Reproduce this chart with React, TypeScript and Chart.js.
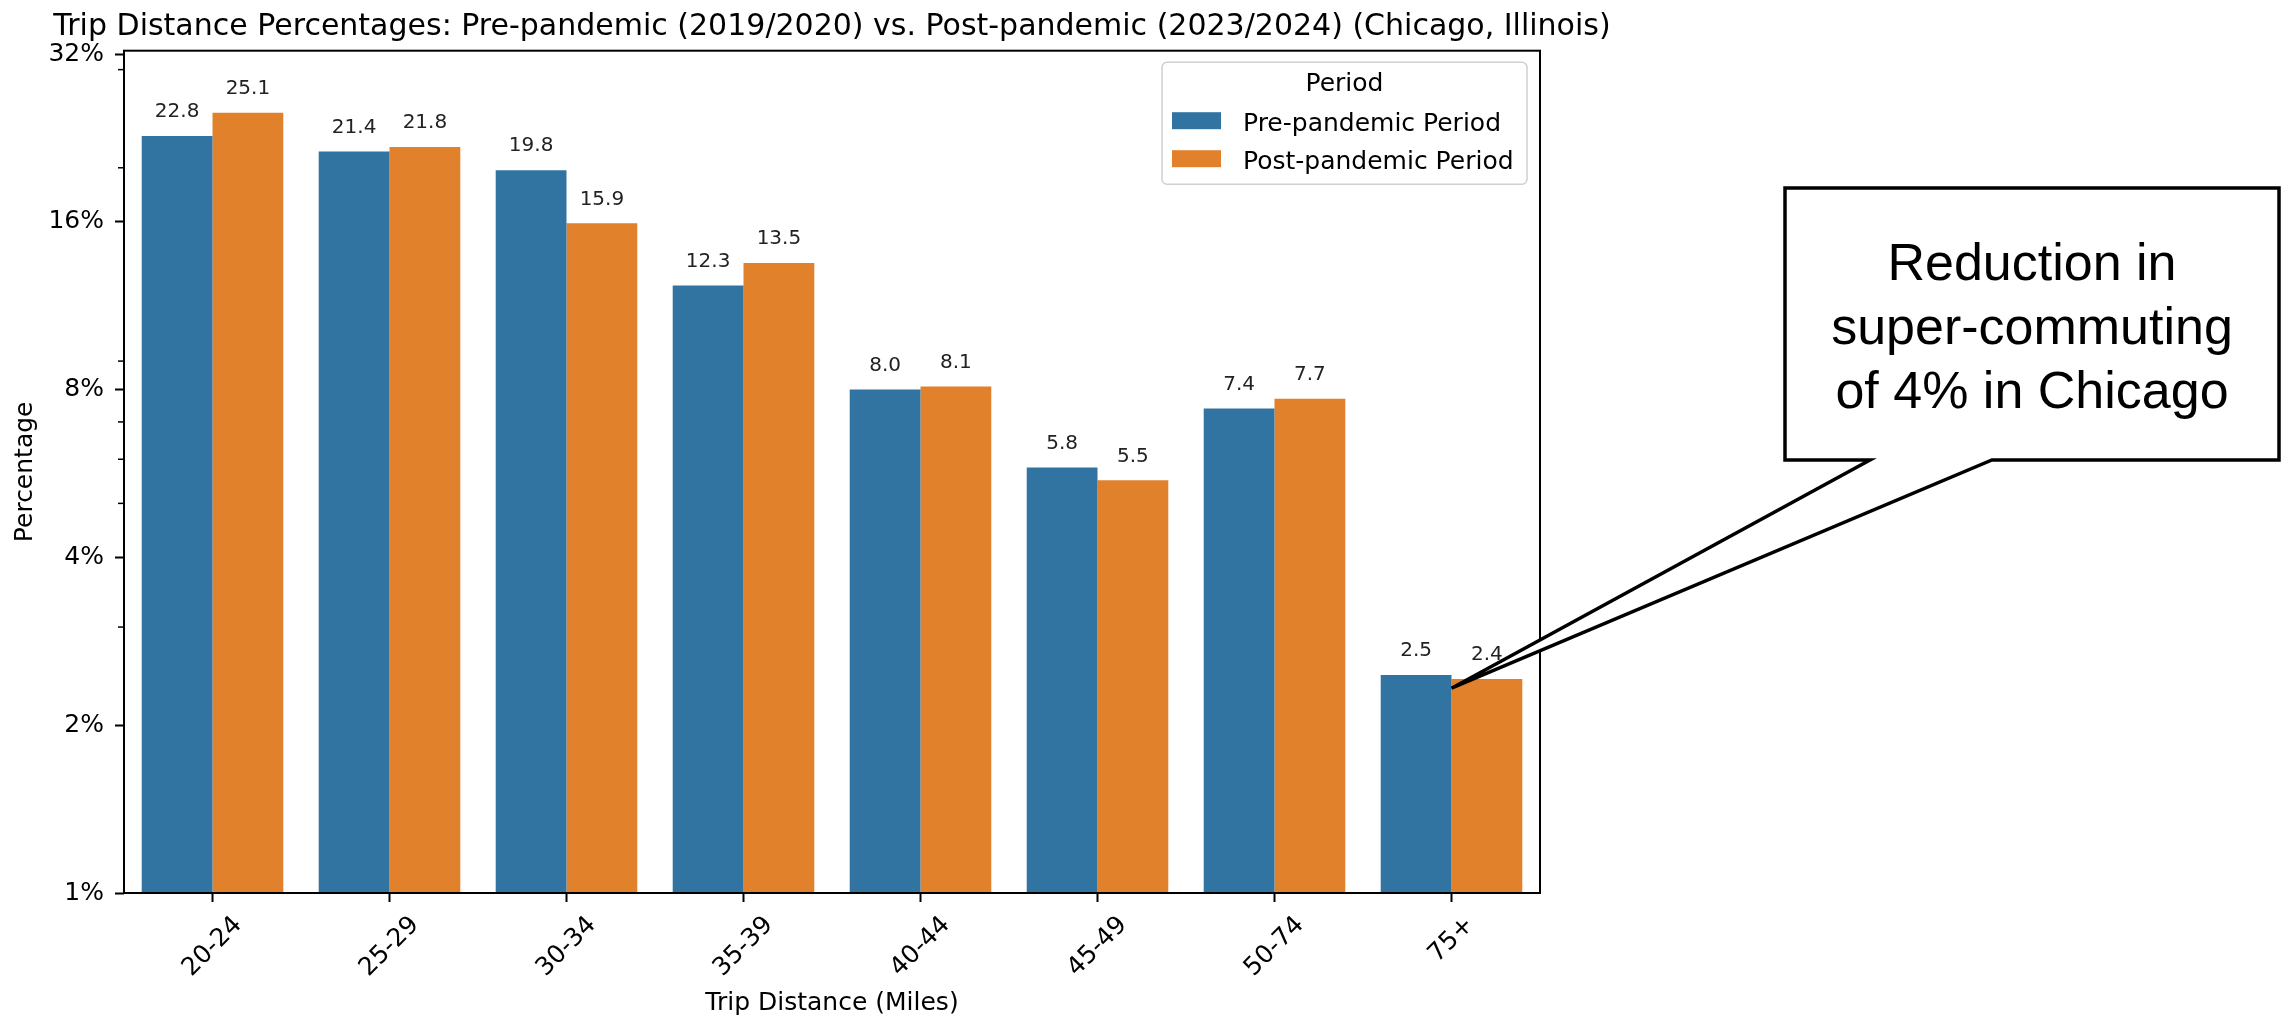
import React, { useEffect, useRef } from 'react';
import { Chart, registerables } from 'chart.js';

Chart.register(...registerables);

// ---- Data ----
const categories = ['20-24', '25-29', '30-34', '35-39', '40-44', '45-49', '50-74', '75+'];
const prePandemic = [22.8, 21.4, 19.8, 12.3, 8.0, 5.8, 7.4, 2.46];
const postPandemic = [25.1, 21.8, 15.9, 13.5, 8.1, 5.5, 7.7, 2.42];
const seriesLabels = ['Pre-pandemic Period', 'Post-pandemic Period'];
const seriesColors = ['#3274a1', '#e1812c'];
const yMajorTicks = [1, 2, 4, 8, 16, 32];
const yMinorTicks = [3, 5, 6, 7, 9, 20, 30];
const titleText =
  'Trip Distance Percentages: Pre-pandemic (2019/2020) vs. Post-pandemic (2023/2024) (Chicago, Illinois)';
const xAxisTitle = 'Trip Distance (Miles)';
const yAxisTitle = 'Percentage';
const legendTitle = 'Period';
const calloutLines = ['Reduction in', 'super-commuting', 'of 4% in Chicago'];
const calloutTargetIndex = 7;
const calloutTargetValue = 2.33;

const FONT = "'DejaVu Sans', sans-serif";
const CALLOUT_FONT = "'Liberation Sans', Arial, sans-serif";

const customPlugin = {
  id: 'customDecor',
  afterDraw(chart: any) {
    const { ctx, chartArea: ca, scales } = chart;
    const xs = scales.x;
    const ys = scales.y;
    ctx.save();

    // minor y ticks
    ctx.strokeStyle = '#000';
    ctx.lineWidth = 1.5;
    yMinorTicks.forEach((v) => {
      const py = ys.getPixelForValue(v);
      ctx.beginPath();
      ctx.moveTo(ca.left, py);
      ctx.lineTo(ca.left - 6, py);
      ctx.stroke();
    });

    // spines
    ctx.lineWidth = 2;
    ctx.strokeRect(ca.left, ca.top, ca.right - ca.left, ca.bottom - ca.top);

    // x tick labels rotated 45deg, centered like matplotlib
    ctx.fillStyle = '#000';
    ctx.font = `25px ${FONT}`;
    ctx.textAlign = 'center';
    ctx.textBaseline = 'middle';
    (chart.data.labels as string[]).forEach((lab, i) => {
      const px = xs.getPixelForValue(i);
      const w = ctx.measureText(lab).width;
      const h = 25 * 1.164;
      const cy = ca.bottom + 9 + 8.75 + ((w + h) * Math.SQRT1_2) / 2;
      ctx.save();
      ctx.translate(px, cy);
      ctx.rotate(-Math.PI / 4);
      ctx.fillText(lab, 0, 0);
      ctx.restore();
    });

    // bar value labels
    ctx.font = `20px ${FONT}`;
    ctx.fillStyle = '#222';
    chart.data.datasets.forEach((ds: any, di: number) => {
      const meta = chart.getDatasetMeta(di);
      meta.data.forEach((el: any, i: number) => {
        ctx.fillText(Number(ds.data[i]).toFixed(1), el.x, el.y - 24);
      });
    });

    // title
    ctx.fillStyle = '#000';
    ctx.font = `30px ${FONT}`;
    ctx.textBaseline = 'alphabetic';
    ctx.fillText(titleText, (ca.left + ca.right) / 2, ca.top - 15.5);

    // legend
    const lw = 365;
    const lh = 122;
    const lx = ca.right - 13 - lw;
    const ly = ca.top + 11.5;
    ctx.beginPath();
    ctx.roundRect(lx, ly, lw, lh, 5);
    ctx.fillStyle = 'rgba(255,255,255,0.8)';
    ctx.fill();
    ctx.strokeStyle = '#d0d0d0';
    ctx.lineWidth = 1.5;
    ctx.stroke();
    ctx.fillStyle = '#000';
    ctx.font = `25px ${FONT}`;
    ctx.textAlign = 'center';
    ctx.textBaseline = 'middle';
    ctx.fillText(legendTitle, lx + lw / 2, ly + 22);
    ctx.textAlign = 'left';
    ctx.textBaseline = 'alphabetic';
    chart.data.datasets.forEach((ds: any, di: number) => {
      const rowY = ly + 50 + di * 38;
      ctx.fillStyle = ds.backgroundColor;
      ctx.fillRect(lx + 10, rowY, 49, 17);
      ctx.fillStyle = '#000';
      ctx.fillText(ds.label, lx + 81, ly + 69 + di * 38);
    });

    // callout
    const bx1 = 1785;
    const by1 = 188;
    const bx2 = 2279;
    const by2 = 460;
    const wedgeL = 1870;
    const wedgeR = 1992;
    const tipX = xs.getPixelForValue(calloutTargetIndex);
    const tipY = ys.getPixelForValue(calloutTargetValue);
    ctx.beginPath();
    ctx.moveTo(wedgeL, by2);
    ctx.lineTo(bx1, by2);
    ctx.lineTo(bx1, by1);
    ctx.lineTo(bx2, by1);
    ctx.lineTo(bx2, by2);
    ctx.lineTo(wedgeR, by2);
    ctx.lineTo(tipX, tipY);
    ctx.closePath();
    ctx.fillStyle = '#fff';
    ctx.fill();
    ctx.strokeStyle = '#000';
    ctx.lineWidth = 3.5;
    ctx.lineJoin = 'miter';
    ctx.stroke();
    ctx.fillStyle = '#000';
    ctx.font = `52px ${CALLOUT_FONT}`;
    ctx.textAlign = 'center';
    ctx.textBaseline = 'alphabetic';
    calloutLines.forEach((line, i) => {
      ctx.fillText(line, (bx1 + bx2) / 2, 280 + i * 64);
    });

    ctx.restore();
  },
};

export default function App() {
  const ref = useRef<HTMLCanvasElement>(null);

  useEffect(() => {
    document.body.style.margin = '0';
    const chart = new Chart(ref.current as HTMLCanvasElement, {
      type: 'bar',
      data: {
        labels: categories,
        datasets: [
          {
            label: seriesLabels[0],
            data: prePandemic,
            backgroundColor: seriesColors[0],
            borderWidth: 0,
            barPercentage: 1.0,
            categoryPercentage: 0.8,
          },
          {
            label: seriesLabels[1],
            data: postPandemic,
            backgroundColor: seriesColors[1],
            borderWidth: 0,
            barPercentage: 1.0,
            categoryPercentage: 0.8,
          },
        ],
      },
      options: {
        responsive: false,
        animation: false,
        devicePixelRatio: 1,
        layout: { padding: { left: 0, top: 50.7, right: 745, bottom: 0 } },
        plugins: {
          legend: { display: false },
          title: { display: false },
          tooltip: { enabled: false },
        },
        scales: {
          x: {
            type: 'category',
            offset: true,
            grid: {
              display: true,
              offset: false,
              drawOnChartArea: false,
              drawTicks: true,
              tickLength: 9,
              tickWidth: 2,
              tickColor: '#000',
            },
            border: { display: false },
            ticks: { display: false },
            title: {
              display: true,
              text: xAxisTitle,
              color: '#000',
              font: { size: 25, family: FONT },
              padding: { top: 0, bottom: 4 },
            },
            afterFit: (s: any) => {
              s.height = 129;
            },
          },
          y: {
            type: 'logarithmic',
            min: 1,
            max: 32.44,
            bounds: 'data',
            grid: {
              display: true,
              drawOnChartArea: false,
              drawTicks: true,
              tickLength: 9,
              tickWidth: 2,
              tickColor: '#000',
            },
            border: { display: false },
            ticks: {
              color: '#000',
              font: { size: 25, family: FONT },
              padding: 11,
              autoSkip: false,
              callback: (v: any) => `${v}%`,
            },
            afterBuildTicks: (s: any) => {
              s.ticks = yMajorTicks.map((v) => ({ value: v }));
            },
            title: {
              display: true,
              text: yAxisTitle,
              color: '#000',
              font: { size: 25, family: FONT },
              padding: { top: 10, bottom: 0 },
            },
            afterFit: (s: any) => {
              s.width = 124;
            },
          },
        },
      } as any,
      plugins: [customPlugin],
    });
    return () => chart.destroy();
  }, []);

  return (
    <div style={{ position: 'absolute', left: 0, top: 0, width: 2285, height: 1022, background: '#fff' }}>
      <canvas ref={ref} width={2285} height={1022} style={{ width: 2285, height: 1022, display: 'block' }} />
    </div>
  );
}
